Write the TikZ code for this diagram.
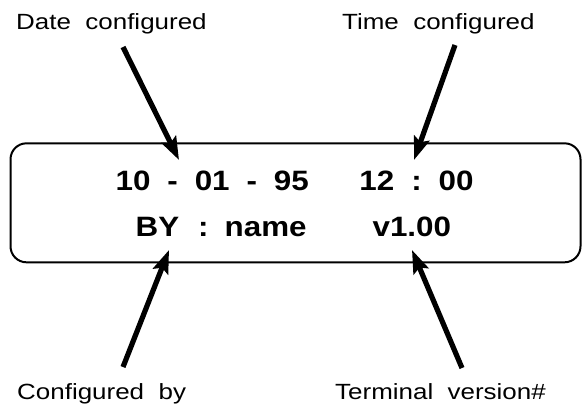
\documentclass[tikz,border=0pt]{standalone}
\usepackage{fontspec}
\usetikzlibrary{arrows.meta}
\newfontfamily\labfont[FakeStretch=1.18]{Liberation Sans}
\newfontfamily\dispfont[FakeStretch=1.12]{Liberation Sans}
\newcommand{\gapA}{\hspace{16.9pt}}
\newcommand{\gapB}{\hspace{50.7pt}}
\begin{document}
\begin{tikzpicture}[x=1pt,y=-1pt,
  labelnode/.style={anchor=base west,inner sep=0pt,font=\labfont\fontsize{22}{26}\selectfont},
  dispnode/.style={anchor=base west,inner sep=0pt,font=\dispfont\bfseries\fontsize{28}{33}\selectfont},
  callout/.style={line width=5.2pt,-{Stealth[length=23pt,width=16pt,inset=4pt]}},
  panel/.style={draw,line width=2pt,rounded corners=16pt}]
\useasboundingbox (0,0) rectangle (583,408);
\node[panel,minimum width=570pt,minimum height=119pt,anchor=north west] (box) at (9.5,142.3) {};
\node[labelnode] (date) at (16,29) {Date~~configured};
\node[labelnode] (time) at (342,29) {Time~~configured};
\node[labelnode] (cfg) at (17,399) {Configured~~by};
\node[labelnode] (term) at (335,399) {Terminal~~version\#};
\node[dispnode] (l1) at (115.5,190.7) {10\gapA-\gapA01\gapA-\gapA95\gapB12\gapA:\gapA00};
\node[dispnode] (l2) at (135.5,236.7) {BY\hspace{19pt}:\hspace{16pt}name\hspace{66pt}v1.00};
\coordinate (s1) at (123,47);  \coordinate (t1) at (179,160);
\coordinate (s2) at (455,45);  \coordinate (t2) at (414,160);
\coordinate (s3) at (123,367); \coordinate (t3) at (169,250);
\coordinate (s4) at (462,368); \coordinate (t4) at (412,250);
\draw[callout] (s1) -- (t1);
\draw[callout] (s2) -- (t2);
\draw[callout] (s3) -- (t3);
\draw[callout] (s4) -- (t4);
\end{tikzpicture}
\end{document}
